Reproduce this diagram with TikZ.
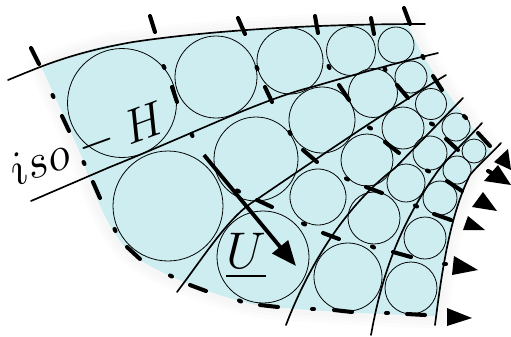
\documentclass[tikz,border=0pt]{standalone}
\usepackage{amsmath,amssymb}
\usetikzlibrary{arrows.meta}
\definecolor{paleflow}{RGB}{205,237,240}
\newcommand{\flowregion}{(42,68) .. controls (70,56) and (100,44) .. (133,42) .. controls (200,33) and (300,24) .. (408,24)
    .. controls (416,45) and (430,70) .. (455,103) -- (472,127) -- (492,152) .. controls (478,165) and (474,168) .. (470,175)
    .. controls (450,215) and (442,270) .. (437,316)
    .. controls (390,315) and (290,310) .. (256,305) .. controls (210,295) and (155,272) .. (133,255)
    .. controls (110,236) and (92,190) .. (82,157) -- cycle}
\tikzset{
  streamline/.style={line width=0.95pt,line cap=round},
  bubble/.style={line width=0.45pt},
  isodash/.style={line width=2.3pt,line cap=round},
  exitmark/.style={fill=black},
}
\begin{document}
\begin{tikzpicture}[x=0.02cm,y=-0.02cm]
  \useasboundingbox (0,0) rectangle (511,336);
  % soft edge, then flow region
  \foreach \wd in {14,10,6}
    \draw[black,opacity=0.012,line width=\wd] \flowregion;
  \fill[paleflow] \flowregion;
  % bubbles
  \foreach \cx/\cy/\rr in {122/103/54.5,216/77/41,290/61/33,351/51/24.5,396/45/18,
    168/206/55,256/159/42,322/120/33,373/93/24.5,411/77/16,
    263/257/46,318/197/28,367/160/26,403/128/21,431/104/15.5,
    348/277/34,374/218/26,406/183/19,430/153/17,456/127/14,
    411/288/26,425/238/21,440/198/17,457/170/14,474/151/12}
    \draw[bubble] (\cx,\cy) circle (\rr);
  % streamlines
  \draw[streamline] (8,80) .. controls (40,67) and (70,53) .. (133,42) .. controls (200,32) and (300,24) .. (425,24);
  \draw[streamline] (31,201) -- (110,167) .. controls (190,135) and (260,100) .. (312,87) .. controls (360,73) and (400,62) .. (438,53);
  \draw[streamline] (177,292) .. controls (205,255) and (230,215) .. (256,200) .. controls (300,170) and (380,115) .. (446,75);
  \draw[streamline] (286,325) .. controls (305,275) and (340,210) .. (395,168) -- (463,98);
  \draw[streamline] (371,335) .. controls (380,285) and (395,232) .. (435,175) .. controls (445,160) and (460,147) .. (482,123);
  \draw[streamline] (435,325) .. controls (442,270) and (450,215) .. (470,175) .. controls (478,165) and (490,155) .. (501,143);
  % iso lines
  \foreach \xa/\ya/\xb/\yb in {31/48/39/64,150/16/155/32,238/18/245/34,172/87/177/102,62/116/69/131,
    315/16/318/33,371/18/374/34,404/8/410/24,265/87/272/102,339/85/349/100,397/85/408/98,433/76/442/90,
    303/150/317/162,385/142/399/153,446/139/458/150,478/133/490/146,
    366/187/382/193,447/181/462/191,434/214/451/220,323/233/339/239,393/252/411/257,
    334/310/352/312,407/314/425/315,260/305/278/307,257/200/272/207,190/285/206/291,127/247/140/259,93/182/100/198,
    163.5/66/164.5/68,52.5/95/53.5/97,83.5/162/84.5/164,191.5/134/192.5/136,237/190.5/239/191.5,
    328.5/66/329.5/68,384.5/68/385.5/70,422.5/56/423.5/58,256.5/67/257.5/69,289.5/132/290.5/134,
    369/127.5/371/128.5,431/123.5/433/124.5,464/116/466/118,303/223.5/305/224.5,346/178.5/348/179.5,
    427/170.5/429/171.5,415/205.5/417/206.5,372/246.5/374/247.5,444/264/446/264,312/309/314/309,
    386/313/388/313,239/300.5/241/301.5,170/275.5/172/276.5,114.5/229/115.5/231,488/171/491/172.5}
    \draw[isodash] (\xa,\ya) -- (\xb,\yb);
  % velocity
  \draw[line width=2.2pt,-{Triangle[length=0.5cm,width=0.4cm]}] (204,155) -- (296,266);
  \node[scale=1.18] (speed) at (246,256) {\Huge$\underline{U}$};
  \node[rotate=20,scale=1.1] (isoH) at (88,145) {\Huge$iso-H$};
  % exit arrows
  \fill[exitmark] (447,308) -- (472,318) -- (447,326) -- cycle;
  \fill[exitmark] (454,256) -- (478,270) -- (452,275) -- cycle;
  \fill[exitmark] (468,216) -- (485,230) -- (463,230) -- cycle;
  \fill[exitmark] (483,192) -- (497,211) -- (472,207) -- cycle;
  \fill[exitmark] (498,165) -- (511,185) -- (484,181) -- cycle;
  \fill[exitmark] (508,149) -- (494,162) -- (511,170) -- cycle;
\end{tikzpicture}
\end{document}
